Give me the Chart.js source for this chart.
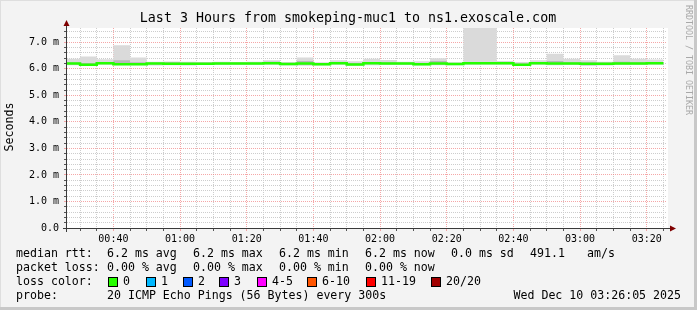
<!DOCTYPE html>
<html>
<head>
<meta charset="utf-8">
<title>smokeping ns1.exoscale.com</title>
<script src="https://cdn.jsdelivr.net/npm/chart.js@4/dist/chart.umd.min.js"></script>
<style>
    html, body { margin: 0; padding: 0; background: #f3f3f3; }
    canvas { display: block; }
</style>
</head>
<body>
<canvas id="smokeChart" width="697" height="310"></canvas>
<script>
// time window shown on the graph
const windowStart = "00:26:05";
const windowEnd = "03:26:05";

// end of every 5 minute step
const binEnds = [
    "00:30", "00:35", "00:40", "00:45", "00:50", "00:55",
    "01:00", "01:05", "01:10", "01:15", "01:20", "01:25",
    "01:30", "01:35", "01:40", "01:45", "01:50", "01:55",
    "02:00", "02:05", "02:10", "02:15", "02:20", "02:25",
    "02:30", "02:35", "02:40", "02:45", "02:50", "02:55",
    "03:00", "03:05", "03:10", "03:15", "03:20", "03:25"
];

// median rtt in ms
const medianRtt = [
    6.20, 6.15, 6.21, 6.17, 6.17, 6.20, 6.19, 6.19, 6.19, 6.20, 6.20, 6.20,
    6.21, 6.18, 6.20, 6.17, 6.21, 6.16, 6.21, 6.20, 6.20, 6.17, 6.20, 6.18,
    6.21, 6.21, 6.21, 6.15, 6.21, 6.20, 6.20, 6.19, 6.19, 6.20, 6.20, 6.21
];

// smoke: fastest and slowest ping of each step
const smokeMin = [
    6.14, 6.12, 6.15, 6.14, 6.14, 6.13, 6.14, 6.13, 6.15, 6.15, 6.15, 6.15,
    6.15, 6.13, 6.12, 6.13, 6.15, 6.13, 6.14, 6.15, 6.15, 6.13, 6.14, 6.14,
    6.15, 6.15, 6.15, 6.12, 6.15, 6.14, 6.15, 6.11, 6.13, 6.15, 6.15, 6.15
];
const smokeMax = [
    6.38, 6.47, 6.36, 6.89, 6.43, 6.27, 6.28, 6.27, 6.26, 6.27, 6.26, 6.27,
    6.32, 6.26, 6.43, 6.25, 6.32, 6.29, 6.38, 6.33, 6.27, 6.29, 6.40, 6.25,
    7.80, 7.80, 6.30, 6.26, 6.32, 6.57, 6.38, 6.32, 6.27, 6.51, 6.38, 6.35
];

// smoke: denser middle part of the pings
const smokeInnerLo = [
    6.17, 6.13, 6.18, 6.15, 6.15, 6.17, 6.16, 6.16, 6.17, 6.17, 6.17, 6.17,
    6.18, 6.15, 6.15, 6.15, 6.18, 6.14, 6.18, 6.17, 6.17, 6.15, 6.17, 6.16,
    6.18, 6.18, 6.18, 6.13, 6.18, 6.17, 6.17, 6.15, 6.16, 6.17, 6.17, 6.18
];
const smokeInnerHi = [
    6.24, 6.22, 6.24, 6.32, 6.25, 6.23, 6.25, 6.23, 6.23, 6.23, 6.23, 6.23,
    6.27, 6.22, 6.30, 6.22, 6.26, 6.22, 6.25, 6.25, 6.23, 6.22, 6.30, 6.22,
    6.26, 6.26, 6.25, 6.20, 6.25, 6.30, 6.25, 6.25, 6.23, 6.27, 6.25, 6.26
];

const xTickLabels = ["00:40", "01:00", "01:20", "01:40", "02:00", "02:20", "02:40", "03:00", "03:20"];
const yTickLabels = ["0.0", "1.0 m", "2.0 m", "3.0 m", "4.0 m", "5.0 m", "6.0 m", "7.0 m"];
const yMax = 7.54;

const titleText = "Last 3 Hours from smokeping-muc1 to ns1.exoscale.com";
const rttLegend = ["median rtt:", "6.2 ms avg", "6.2 ms max", "6.2 ms min", "6.2 ms now", "0.0 ms sd", "491.1", "am/s"];
const lossLegend = ["packet loss:", "0.00 % avg", "0.00 % max", "0.00 % min", "0.00 % now"];
const lossLabels = ["0", "1", "2", "3", "4-5", "6-10", "11-19", "20/20"];
const lossColors = ["#26ff00", "#00b8ff", "#0059ff", "#7e00ff", "#ff00ff", "#ff5500", "#ff0000", "#a10000"];
const probeText = "20 ICMP Echo Pings (56 Bytes) every 300s";
const stampText = "Wed Dec 10 03:26:05 2025";

const MONO = '"DejaVu Sans Mono", monospace';
const MAJOR = "rgba(240,120,120,0.65)";
const MINOR = "#cdcdcd";
const legendCols = [16, 107, 193, 279, 365, 451, 530, 587];
const swatchX = [108, 146, 183, 219, 257, 307, 366, 431];

function toMin(t) {
    const [h, m, s] = t.split(":").map(Number);
    return h * 60 + m + (s || 0) / 60;
}

const xStart = toMin(windowStart);
const xEnd = toMin(windowEnd);
const majorX = xTickLabels.map(toMin);

// each step value holds from the previous step end up to its own end
function steps(values) {
    return [{ x: xStart, y: values[0] }].concat(
        binEnds.map((t, i) => ({ x: toMin(t), y: values[i] }))
    );
}

function area(values, color, target) {
    return {
        data: steps(values),
        stepped: "after",
        borderWidth: 0,
        borderColor: "transparent",
        backgroundColor: color,
        pointRadius: 0,
        fill: target === undefined ? false : target,
        order: 3
    };
}

const isInt = (v) => Math.abs(v - Math.round(v)) < 1e-6;

const rrdFrame = {
    id: "rrdFrame",

    beforeDraw(chart) {
        const { ctx, chartArea: a, width: w, height: h } = chart;
        ctx.save();
        ctx.fillStyle = "#f3f3f3";
        ctx.fillRect(0, 0, w, h);
        ctx.fillStyle = "#dedede";
        ctx.fillRect(0, 0, w, 1);
        ctx.fillRect(0, 0, 1, h);
        ctx.fillStyle = "#c8c8c8";
        ctx.fillRect(0, h - 3, w, 3);
        ctx.fillRect(w - 3, 0, 3, h);
        ctx.fillStyle = "#ffffff";
        ctx.fillRect(a.left, a.top, a.right - a.left + 1, a.bottom - a.top);
        ctx.restore();
    },

    afterDraw(chart) {
        const { ctx, chartArea: a } = chart;
        ctx.save();

        // axes with arrows
        ctx.strokeStyle = "#3a3a3a";
        ctx.lineWidth = 1;
        ctx.beginPath();
        ctx.moveTo(a.left - 0.5, a.bottom + 4);
        ctx.lineTo(a.left - 0.5, a.top - 4);
        ctx.moveTo(a.left - 4, a.bottom + 0.5);
        ctx.lineTo(a.right + 4, a.bottom + 0.5);
        ctx.stroke();
        ctx.fillStyle = "#7f0000";
        ctx.beginPath();
        ctx.moveTo(a.left - 0.5, a.top - 8);
        ctx.lineTo(a.left - 3.5, a.top - 2);
        ctx.lineTo(a.left + 2.5, a.top - 2);
        ctx.closePath();
        ctx.fill();
        ctx.beginPath();
        ctx.moveTo(a.right + 9, a.bottom + 0.5);
        ctx.lineTo(a.right + 3, a.bottom - 2.5);
        ctx.lineTo(a.right + 3, a.bottom + 3.5);
        ctx.closePath();
        ctx.fill();

        ctx.fillStyle = "#000";
        ctx.textBaseline = "middle";

        // title
        ctx.font = "13.3px " + MONO;
        ctx.textAlign = "center";
        ctx.fillText(titleText, 348, 19);

        // y axis title
        ctx.save();
        ctx.font = "11.6px " + MONO;
        ctx.translate(10, 127);
        ctx.rotate(-Math.PI / 2);
        ctx.fillText("Seconds", 0, 0);
        ctx.restore();

        // watermark
        ctx.save();
        ctx.font = "8.3px " + MONO;
        ctx.fillStyle = "#a8a8a8";
        ctx.textAlign = "left";
        ctx.translate(688.5, 5);
        ctx.rotate(Math.PI / 2);
        ctx.fillText("RRDTOOL / TOBI OETIKER", 0, 0);
        ctx.restore();

        // legend
        ctx.font = "11.6px " + MONO;
        ctx.textAlign = "left";
        rttLegend.forEach((t, i) => ctx.fillText(t, legendCols[i], 254));
        lossLegend.forEach((t, i) => ctx.fillText(t, legendCols[i], 268));
        ctx.fillText("loss color:", legendCols[0], 282);
        lossLabels.forEach((t, i) => {
            ctx.fillStyle = lossColors[i];
            ctx.fillRect(swatchX[i], 277, 10, 10);
            ctx.strokeStyle = "#000";
            ctx.strokeRect(swatchX[i] + 0.5, 277.5, 9, 9);
            ctx.fillStyle = "#000";
            ctx.fillText(t, swatchX[i] + 15, 282);
        });
        ctx.fillText("probe:", legendCols[0], 296);
        ctx.fillText(probeText, legendCols[1], 296);
        ctx.textAlign = "right";
        ctx.fillText(stampText, 681, 296);

        ctx.restore();
    }
};

const smokeChart = new Chart(document.getElementById("smokeChart"), {
    type: "line",

    data: {
        datasets: [
            area(smokeMax, "#dadada", 1),
            area(smokeMin, "transparent"),
            Object.assign(area(smokeInnerHi, "#b8b8b8", 3), { order: 2 }),
            Object.assign(area(smokeInnerLo, "transparent"), { order: 2 }),
            {
                data: steps(medianRtt),
                stepped: "after",
                borderColor: "#26ff00",
                borderWidth: 2.5,
                pointRadius: 0,
                fill: false,
                order: 1
            }
        ]
    },

    options: {
        responsive: false,
        animation: false,
        events: [],

        layout: {
            padding: { left: 0, top: 28, right: 30, bottom: 62 }
        },

        plugins: {
            legend: { display: false },
            tooltip: { enabled: false }
        },

        scales: {
            x: {
                type: "linear",
                min: xStart,
                max: xEnd,
                afterBuildTicks(scale) {
                    scale.ticks = binEnds.map((t) => ({ value: toMin(t) }));
                },
                afterFit(scale) {
                    scale.height = 20;
                },
                grid: {
                    color: (c) => majorX.includes(c.tick.value) ? MAJOR : MINOR,
                    tickColor: (c) => majorX.includes(c.tick.value) ? MAJOR : "#555",
                    tickLength: 3
                },
                border: { display: false, dash: [1, 1] },
                ticks: {
                    autoSkip: false,
                    maxRotation: 0,
                    padding: 2,
                    color: "#000",
                    font: { family: MONO, size: 10 },
                    callback(value) {
                        const i = majorX.indexOf(value);
                        return i < 0 ? "" : xTickLabels[i];
                    }
                }
            },

            y: {
                min: 0,
                max: yMax,
                afterBuildTicks(scale) {
                    scale.ticks = Array.from({ length: 38 }, (_, i) => ({ value: i / 5 }));
                },
                afterFit(scale) {
                    scale.width = 67;
                },
                grid: {
                    color: (c) => isInt(c.tick.value) ? MAJOR : MINOR,
                    tickColor: (c) => isInt(c.tick.value) ? MAJOR : "#555",
                    tickLength: 3
                },
                border: { display: false, dash: [1, 1] },
                ticks: {
                    autoSkip: false,
                    padding: 5,
                    color: "#000",
                    font: { family: MONO, size: 10 },
                    callback(value) {
                        return isInt(value) ? yTickLabels[Math.round(value)] : "";
                    }
                }
            }
        }
    },

    plugins: [rrdFrame]
});
</script>
</body>
</html>
